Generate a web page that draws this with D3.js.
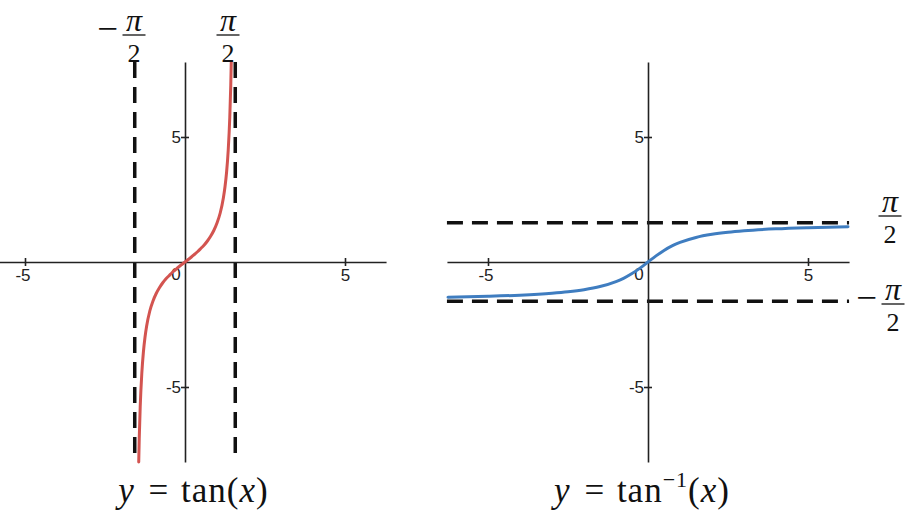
<!DOCTYPE html>
<html>
<head>
<meta charset="utf-8">
<script src="https://cdn.jsdelivr.net/npm/d3@7"></script>
<style>
  html, body { margin: 0; padding: 0; background: #fff; }
  svg { display: block; }
</style>
</head>
<body>
<svg id="chart" width="922" height="513"></svg>
<script>
// ---- data ----
const xTicks = [-5, 5];
const yTicks = [-5, 5];
const asymptotesX = [-Math.PI / 2, Math.PI / 2];   // vertical dashed lines (left)
const asymptotesY = [Math.PI / 2, -Math.PI / 2];   // horizontal dashed lines (right)

// y = tan(x) sample points
const tanX = [-1.446, -1.43, -1.40, -1.35, -1.30, -1.25, -1.20, -1.10, -1.00, -0.90, -0.80, -0.70, -0.60, -0.50, -0.40, -0.30, -0.20, -0.10, 0,
              0.10, 0.20, 0.30, 0.40, 0.50, 0.60, 0.70, 0.80, 0.90, 1.00, 1.10, 1.20, 1.25, 1.30, 1.35, 1.40, 1.43, 1.446];
const tanY = [-8.0, -7.07, -5.80, -4.46, -3.60, -3.01, -2.57, -1.96, -1.56, -1.26, -1.03, -0.84, -0.68, -0.55, -0.42, -0.31, -0.20, -0.10, 0,
              0.10, 0.20, 0.31, 0.42, 0.55, 0.68, 0.84, 1.03, 1.26, 1.56, 1.96, 2.57, 3.01, 3.60, 4.46, 5.80, 7.07, 8.0];

// y = arctan(x) sample points
const atanX = [-6.25, -5, -4, -3, -2.5, -2, -1.5, -1, -0.75, -0.5, -0.25, 0, 0.25, 0.5, 0.75, 1, 1.5, 2, 2.5, 3, 4, 5, 6.25];
const atanY = [-1.412, -1.373, -1.326, -1.249, -1.190, -1.107, -0.983, -0.785, -0.644, -0.464, -0.245, 0, 0.245, 0.464, 0.644, 0.785, 0.983, 1.107, 1.190, 1.249, 1.326, 1.373, 1.412];

// ---- layout ----
const svg = d3.select("#chart");
const unitX = 32;           // px per unit along x
const halfW = 2 * Math.PI * unitX;
const yTop = 62, yBot = 462;
const SANS = '"Liberation Sans", Arial, sans-serif';
const SERIF = '"Liberation Serif", "Times New Roman", serif';

function panel(cx, opts) {
  const x = d3.scaleLinear().domain([-2 * Math.PI, 2 * Math.PI]).range([cx - halfW, cx + halfW]);
  const y = d3.scaleLinear().domain([-8, 8]).range([yBot, yTop]);
  const g = svg.append("g");

  // dashed asymptotes (behind)
  if (opts.vLines) {
    g.selectAll(".vdash").data(opts.vLines).join("line")
      .attr("x1", d => x(d)).attr("x2", d => x(d))
      .attr("y1", y(8)).attr("y2", y(-8))
      .attr("stroke", "#111").attr("stroke-width", 3.5)
      .attr("stroke-dasharray", "16,9");
  }
  if (opts.hLines) {
    g.selectAll(".hdash").data(opts.hLines).join("line")
      .attr("x1", x(-2 * Math.PI)).attr("x2", x(2 * Math.PI))
      .attr("y1", d => y(d)).attr("y2", d => y(d))
      .attr("stroke", "#111").attr("stroke-width", 3.5)
      .attr("stroke-dasharray", "16,9");
  }

  // x axis
  const gx = g.append("g").attr("transform", `translate(0,${y(0)})`)
    .call(d3.axisBottom(x).tickValues(xTicks).tickFormat(d => String(d)).tickSize(4).tickSizeOuter(0).tickPadding(3));
  gx.attr("font-size", null).attr("font-family", null);
  gx.select(".domain").attr("stroke", "#222").attr("stroke-width", 1.6);
  gx.selectAll(".tick line").attr("y1", -4).attr("y2", 4).attr("stroke", "#222").attr("stroke-width", 1.6);
  gx.selectAll(".tick text").attr("dx", d => d < 0 ? -2.5 : 0)
    .style("font-family", SANS).style("font-size", "17px").style("fill", "#222");

  // y axis
  const gy = g.append("g").attr("transform", `translate(${x(0)},0)`)
    .call(d3.axisLeft(y).tickValues(yTicks).tickFormat(d => String(d)).tickSize(4).tickSizeOuter(0).tickPadding(0));
  gy.attr("font-size", null).attr("font-family", null);
  gy.select(".domain").attr("stroke", "#222").attr("stroke-width", 1.6);
  gy.selectAll(".tick line").attr("x1", -4).attr("x2", 4).attr("stroke", "#222").attr("stroke-width", 1.6);
  gy.selectAll(".tick text")
    .style("font-family", SANS).style("font-size", "17px").style("fill", "#222");

  // origin label
  g.append("text")
    .attr("x", x(0) - 9).attr("y", y(0) + 18)
    .attr("text-anchor", "middle")
    .style("font-family", SANS).style("font-size", "17px").style("fill", "#222")
    .text("0");

  // curve
  const pts = opts.xs.map((d, i) => [d, opts.ys[i]]);
  g.append("path").datum(pts)
    .attr("fill", "none").attr("stroke", opts.color).attr("stroke-width", 3)
    .attr("stroke-linecap", "round")
    .attr("d", d3.line().x(d => x(d[0])).y(d => y(d[1])).curve(d3.curveMonotoneX));

  return { x, y, g };
}

// fraction label  π / 2  (optionally preceded by a minus)
function fraction(cx, barY, minusEnd) {
  const t = svg.append("g").style("fill", "#111");
  t.append("text").attr("x", cx).attr("y", barY - 4).attr("text-anchor", "middle")
    .style("font-family", SERIF).style("font-style", "italic").style("font-size", "32px").text("π");
  t.append("line").attr("x1", cx - 11.5).attr("x2", cx + 11.5).attr("y1", barY).attr("y2", barY)
    .attr("stroke", "#111").attr("stroke-width", 1.3);
  t.append("text").attr("x", cx).attr("y", barY + 27).attr("text-anchor", "middle")
    .style("font-family", SERIF).style("font-size", "26px").text("2");
  if (minusEnd !== undefined) {
    t.append("text").attr("x", minusEnd).attr("y", barY + 6).attr("text-anchor", "end")
      .style("font-family", SERIF).style("font-size", "37px").text("−");
  }
}

const L = panel(185, { vLines: asymptotesX, xs: tanX, ys: tanY, color: "#d35450" });
const R = panel(648, { hLines: asymptotesY, xs: atanX, ys: atanY, color: "#3f7dc0" });

// asymptote labels
fraction(134, 35, 118);
fraction(228, 35);
fraction(890, 216);
fraction(893, 304, 877);

// titles
function title(cx, inverse) {
  const t = svg.append("text").attr("x", cx).attr("y", 502).attr("text-anchor", "middle")
    .style("font-family", SERIF).style("font-size", "35px").style("letter-spacing", "1px")
    .style("fill", "#111");
  t.append("tspan").style("font-style", "italic").text("y");
  t.append("tspan").attr("dx", 4).text(" = ");
  t.append("tspan").attr("dx", 2).text("tan");
  if (inverse) {
    t.append("tspan").attr("dy", -15).style("font-size", "22px").text("−1");
    t.append("tspan").attr("dy", 15).text("(");
  } else {
    t.append("tspan").text("(");
  }
  t.append("tspan").style("font-style", "italic").text("x");
  t.append("tspan").text(")");
}
title(193.5, false);
title(642, true);
</script>
</body>
</html>
